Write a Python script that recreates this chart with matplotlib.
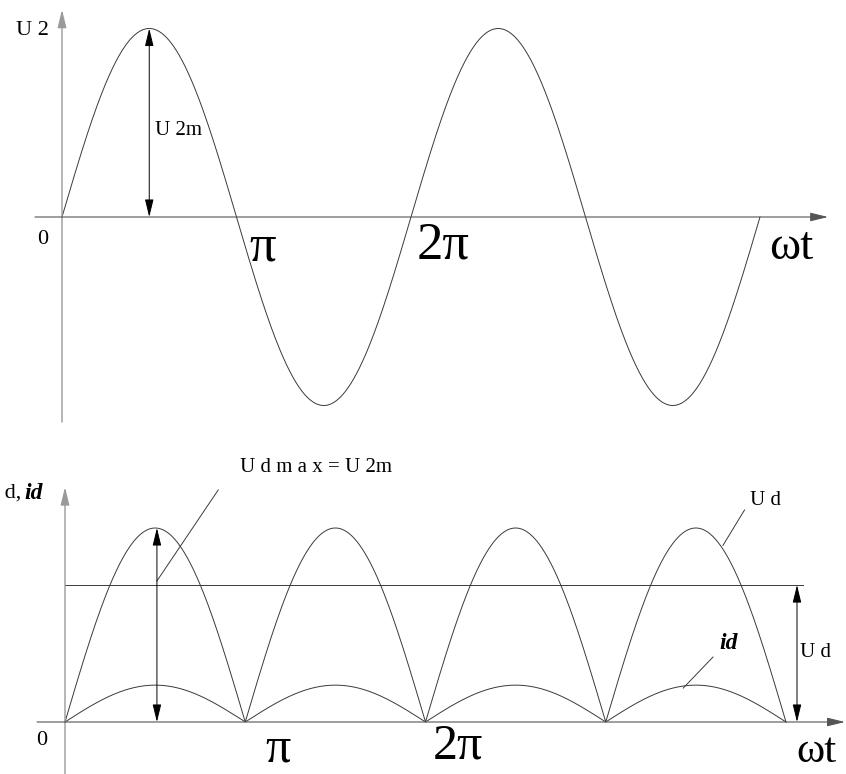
import numpy as np
import matplotlib
matplotlib.use("Agg")
import matplotlib.pyplot as plt

# x values are in units of pi (omega*t / pi)
t_end = 4.0            # both plots run over 0 .. 4*pi
u2m = 1.0              # peak of u2 (top plot)
udmax = 1.0            # peak of rectified ud (bottom plot)
ud_avg = 0.706         # level of the Ud line
id_peak = 0.19         # peak of the id arches
tick_pos = [1, 2]
tick_labels = ["π", "2π"]

t = np.linspace(0, t_end, 1200)
u2 = u2m * np.sin(np.pi * t)
ud = udmax * np.abs(np.sin(np.pi * t))
i_d = id_peak * np.abs(np.sin(np.pi * t))

W, H = 846, 774
fig = plt.figure(figsize=(W / 100, H / 100), dpi=100)
split = 440  # pixel row between the two diagrams

ax1 = fig.add_axes([0, (H - split) / H, 1, split / H])
ax2 = fig.add_axes([0, 0, 1, (H - split) / H])
for ax in (ax1, ax2):
    ax.axis("off")

# scales (px per unit)
ax1.set_xlim(-62 / 174.5, (W - 62) / 174.5)
ax1.set_ylim(-(split - 217) / 188.5, 217 / 188.5)
ax2.set_xlim(-65 / 180.25, (W - 65) / 180.25)
ax2.set_ylim(-(H - 722) / 194, (722 - split) / 194)

serif = "Liberation Serif"
curve = dict(color="#3a3a3a", lw=0.7)
head = "-|>,head_length=0.9,head_width=0.22"
both = "<|-|>,head_length=0.9,head_width=0.22"


def arrow(ax, x0, y0, x1, y1, style=head, color="black", lw=0.7):
    ax.annotate("", xy=(x1, y1), xytext=(x0, y0),
                arrowprops=dict(arrowstyle=style, color=color, lw=lw,
                                mutation_scale=12, shrinkA=0, shrinkB=0))


# ---------- top: u2 ----------
arrow(ax1, 0, -1.088, 0, 1.10, color="#9a9a9a", lw=1.0)
arrow(ax1, -0.155, 0, 4.39, 0, color="#555555", lw=0.8)
ax1.plot(t, u2, **curve)
arrow(ax1, 0.5, 0, 0.5, u2m, style=both)

ax1.text(-0.172, 0.987, "U 2", family=serif, fontsize=16, ha="center", va="center")
ax1.text(-0.11, -0.12, "0", family=serif, fontsize=16, ha="center", va="center")
ax1.text(0.533, 0.46, "U 2m", family=serif, fontsize=15, ha="left", va="center")
ax1.text(tick_pos[0] + 0.152, -0.164, tick_labels[0], family=serif, fontsize=38,
         ha="center", va="center")
ax1.text(tick_pos[1] + 0.184, -0.153, tick_labels[1], family=serif, fontsize=38,
         ha="center", va="center")
ax1.text(4.18, -0.164, "ωt", family=serif, fontsize=34, ha="center", va="center")

# ---------- bottom: ud, id ----------
arrow(ax2, 0, -0.268, 0, 1.211, color="#9a9a9a", lw=1.0)
arrow(ax2, -0.155, 0, 4.327, 0, color="#555555", lw=0.8)
ax2.plot(t, ud, **curve)
ax2.plot(t, i_d, **curve)
ax2.plot([0, 4.094], [ud_avg, ud_avg], color="#3a3a3a", lw=0.7)
arrow(ax2, 4.061, 0, 4.061, ud_avg, style=both)
arrow(ax2, 0.51, 0, 0.51, udmax, style=both)

# leaders
ax2.plot([0.51, 0.85], [0.727, 1.196], color="#3a3a3a", lw=0.7)
ax2.plot([3.77, 3.65], [1.093, 0.91], color="#3a3a3a", lw=0.7)
ax2.plot([3.595, 3.43], [0.335, 0.175], color="#3a3a3a", lw=0.7)

ax2.text(0.97, 1.314, "U d m a x = U 2m", family=serif, fontsize=15,
         ha="left", va="center")
ax2.text(3.80, 1.144, "U d", family=serif, fontsize=15, ha="left", va="center")
ax2.text(-0.122, 1.18, "id", family=serif, fontsize=17, fontweight="bold",
         style="italic", ha="right", va="center")
ax2.text(-0.245, 1.18, "U d,", family=serif, fontsize=16, ha="right", va="center")
ax2.text(3.68, 0.407, "id", family=serif, fontsize=17, fontweight="bold",
         style="italic", ha="center", va="center")
ax2.text(4.166, 0.356, "U d", family=serif, fontsize=15, ha="center", va="center")
ax2.text(-0.128, -0.093, "0", family=serif, fontsize=16, ha="center", va="center")
ax2.text(tick_pos[0] + 0.18, -0.14, tick_labels[0], family=serif, fontsize=36,
         ha="center", va="center")
ax2.text(tick_pos[1] + 0.18, -0.125, tick_labels[1], family=serif, fontsize=36,
         ha="center", va="center")
ax2.text(4.17, -0.155, "ωt", family=serif, fontsize=31, ha="center", va="center")

fig.savefig("out.png", dpi=100, facecolor="white")
